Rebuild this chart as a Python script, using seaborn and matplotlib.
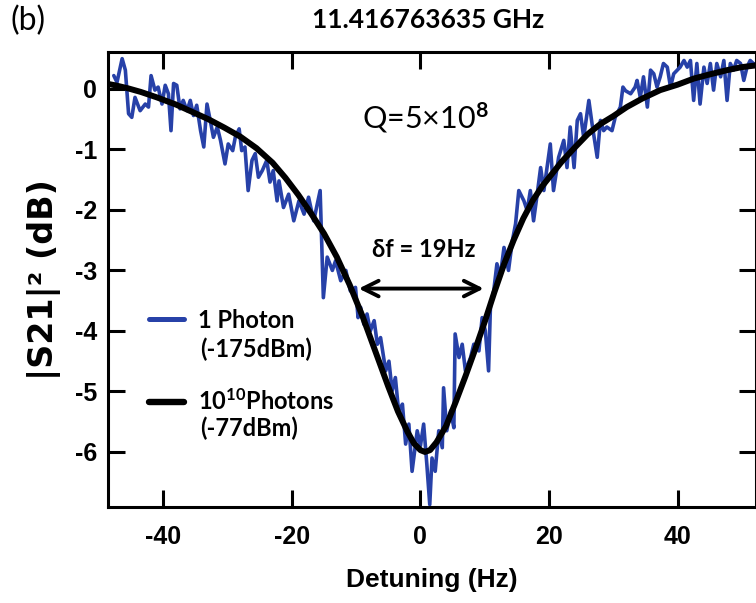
import matplotlib
matplotlib.use("Agg")
import matplotlib.pyplot as plt
import numpy as np
import pandas as pd
import seaborn as sns
from matplotlib.font_manager import FontProperties

# ---------------- data ----------------
# 1-photon measurement (-175 dBm), noisy trace
x_blue = [-47.7, -47.2, -46.4, -45.9, -45.4, -44.9, -44.4, -43.6, -42.8, -42.3,
          -41.9, -41.3, -40.8, -40.2, -39.7, -39.2, -38.8, -38.4, -37.9, -37.4,
          -36.9, -36.3, -35.8, -35.3, -34.8, -34.2, -33.7, -33.2, -32.7, -32.2,
          -31.6, -31.1, -30.4, -29.9, -29.2, -28.8, -28.2, -27.8, -27.3, -26.8,
          -26.2, -25.7, -25.2, -24.6, -23.9, -23.4, -22.9, -22.3, -22.0, -21.3,
          -20.5, -19.7, -18.9, -18.1, -17.4, -16.6, -15.6, -15.1, -14.5, -13.7,
          -13.2, -12.4, -11.6, -10.9, -10.1, -9.7, -9.3, -8.8, -8.3, -7.8,
          -7.2, -6.7, -6.2, -5.4, -4.9, -4.4, -3.9, -3.4, -2.8, -2.3,
          -1.8, -1.3, -0.5, 0.0, 0.5, 1.0, 1.45, 1.8, 2.3, 2.85,
          3.4, 3.6, 4.1, 4.7, 5.2, 5.4, 6.0, 6.5, 7.0, 7.8,
          8.3, 9.1, 9.6, 10.1, 10.6, 10.9, 11.4, 11.9, 12.4, 13.0,
          13.7, 14.3, 14.8, 15.3, 16.1, 16.6, 17.1, 17.6, 18.1, 18.7,
          19.2, 20.2, 20.7, 21.5, 22.3, 22.8, 23.3, 23.9, 24.4, 24.9,
          25.4, 26.2, 26.7, 27.5, 28.0, 28.5, 29.0, 29.8, 30.3, 31.1,
          31.5, 31.9, 32.7, 33.4, 33.7, 34.2, 34.7, 35.3, 35.8, 36.3,
          36.8, 37.3, 37.8, 38.4, 38.9, 39.4, 40.4, 41.0, 41.5, 42.0,
          42.5, 43.0, 43.5, 44.1, 44.6, 45.1, 45.6, 46.1, 46.7, 47.2,
          47.7, 48.2, 48.7, 49.2, 49.8, 50.3, 50.8, 51.3, 51.8, 52.3]
y_blue = [0.22, 0.11, 0.50, 0.31, -0.41, -0.47, -0.14, -0.36, -0.25, -0.30,
          0.22, -0.02, 0.03, -0.25, 0.06, -0.08, -0.69, 0.09, 0.06, -0.33,
          -0.19, -0.36, -0.19, -0.44, -0.27, -0.69, -0.96, -0.25, -0.52, -0.80,
          -0.63, -0.85, -1.24, -0.91, -1.02, -0.80, -0.66, -1.02, -0.96, -1.68,
          -1.18, -1.07, -1.46, -1.35, -1.18, -1.54, -1.35, -1.85, -1.52, -1.96,
          -1.74, -2.18, -1.85, -2.07, -1.79, -2.18, -1.68, -3.45, -2.78, -3.00,
          -2.84, -3.17, -3.00, -3.34, -3.28, -3.78, -3.61, -3.89, -3.72, -4.00,
          -3.83, -4.22, -4.11, -4.66, -4.50, -4.99, -4.77, -5.32, -5.21, -5.87,
          -5.54, -6.32, -5.65, -5.90, -5.54, -6.21, -6.87, -6.10, -6.32, -5.65,
          -5.93, -4.94, -5.65, -5.32, -5.60, -4.05, -4.44, -4.22, -4.66, -4.44,
          -4.22, -4.33, -3.78, -4.00, -4.66, -3.56, -3.34, -2.89, -3.11, -2.62,
          -3.00, -2.51, -2.23, -1.68, -1.85, -2.01, -1.68, -2.18, -1.79, -1.30,
          -1.68, -0.91, -1.68, -1.13, -0.85, -1.30, -0.63, -1.30, -0.52, -0.41,
          -0.80, -0.19, -0.58, -1.13, -0.52, -0.69, -0.63, -0.69, -0.47, -0.30,
          0.03, -0.03, -0.08, 0.03, 0.14, -0.14, 0.20, -0.30, 0.31, 0.25,
          0.03, 0.20, 0.42, 0.36, 0.03, 0.25, 0.36, 0.47, 0.36, 0.47,
          -0.19, 0.42, -0.25, 0.36, 0.09, 0.42, -0.02, 0.42, 0.20, 0.47,
          -0.19, 0.42, 0.31, 0.47, 0.42, 0.14, 0.36, 0.47, 0.42, 0.40]

# 10^10-photon measurement (-77 dBm), smooth trace
x_fit = [-48.5, -47.5, -45.5, -43.5, -41.0, -38.0, -35.5, -33.0, -30.5, -28.0,
         -25.5, -23.0, -21.0, -19.0, -17.0, -15.0, -13.0, -11.0, -9.0, -7.0,
         -5.0, -3.5, -2.0, -1.0, 0.0, 0.7, 1.5, 2.5, 4.0, 5.5,
         7.0, 8.5, 10.0, 11.5, 13.0, 14.5, 16.0, 17.5, 19.0, 20.5,
         22.0, 24.0, 26.0, 28.0, 30.0, 32.1, 34.5, 37.3, 40.0, 42.5,
         45.0, 47.7, 50.0, 52.3]
y_fit = [0.08, 0.06, 0.01, -0.05, -0.14, -0.26, -0.38, -0.50, -0.64, -0.79,
         -0.98, -1.22, -1.47, -1.75, -2.06, -2.39, -2.78, -3.24, -3.76, -4.34,
         -4.92, -5.33, -5.67, -5.86, -5.97, -6.00, -5.97, -5.84, -5.57, -5.17,
         -4.75, -4.31, -3.85, -3.36, -2.90, -2.50, -2.14, -1.84, -1.60, -1.40,
         -1.20, -0.97, -0.75, -0.58, -0.45, -0.30, -0.16, -0.02, 0.07, 0.17,
         0.24, 0.31, 0.36, 0.39]

x_ticks = [-40, -20, 0, 20, 40]
y_ticks = [0, -1, -2, -3, -4, -5, -6]
fwhm_ends = (-9.6, 9.85)   # ends of the linewidth arrow (Hz)
fwhm_level = -3.3          # dB level of the arrow

label_blue = "1 Photon"
label_blue_sub = "(-175dBm)"
label_black = r"$\mathbf{10^{10}}$Photons"
label_black_sub = "(-77dBm)"

BLUE = "#2741a8"

# ---------------- style ----------------
sns.set_theme(style="ticks")
plt.rcParams.update({
    "font.family": ["Liberation Sans", "DejaVu Sans"],
    "font.weight": "bold",
    "axes.unicode_minus": False,
    "text.color": "black",
    "axes.labelcolor": "black",
    "xtick.color": "black",
    "ytick.color": "black",
    "mathtext.fontset": "custom",
    "mathtext.rm": "Lato",
    "mathtext.bf": "Lato:bold",
    "mathtext.it": "Lato:italic",
})

fig = plt.figure(figsize=(7.56, 6.03), dpi=100)
ax = fig.add_axes([108 / 756, 96 / 603, 648 / 756, 455 / 603])

df_blue = pd.DataFrame({"Detuning": x_blue, "S21": y_blue})
df_fit = pd.DataFrame({"Detuning": x_fit, "S21": y_fit})

sns.lineplot(data=df_blue, x="Detuning", y="S21", ax=ax, color=BLUE, lw=2.6,
             sort=False, estimator=None, label=label_blue)
sns.lineplot(data=df_fit, x="Detuning", y="S21", ax=ax, color="black", lw=4.3,
             sort=False, estimator=None, label=label_black)

ax.set_xlim(-48.6, 52.2)
ax.set_ylim(-6.91, 0.61)
ax.set_xticks(x_ticks)
ax.set_yticks(y_ticks)
ax.tick_params(direction="in", length=12, width=2.2, top=True, right=True,
               labelsize=18, color="black", labelcolor="black")
ax.tick_params(axis="x", pad=13)
ax.tick_params(axis="y", pad=8)
for s in ax.spines.values():
    s.set_linewidth(2.2)
    s.set_color("black")
    s.set_visible(True)

ax.set_xlabel("Detuning (Hz)", fontsize=19, fontweight="bold", labelpad=14)
ax.set_ylabel("|S21|² (dB)", fontsize=24, fontweight="bold", labelpad=10,
              family=["DejaVu Sans"])

# legend
leg_font = FontProperties(family="Lato", weight="bold", size=17)
leg = ax.legend(loc="upper left", bbox_to_anchor=(0.048, 0.457), frameon=False,
                prop=leg_font, handlelength=1.5, handletextpad=0.6,
                labelspacing=2.4, borderaxespad=0, borderpad=0.4)
for h, w in zip(leg.legend_handles, [3.6, 4.6]):
    h.set_linewidth(w)
ax.text(0.142, 0.347, label_blue_sub, transform=ax.transAxes, ha="left",
        va="center", family="Lato", fontweight="bold", fontsize=17)
ax.text(0.142, 0.172, label_black_sub, transform=ax.transAxes, ha="left",
        va="center", family="Lato", fontweight="bold", fontsize=17)

# annotations
ax.text(0.49, 0.855, r"Q=5×10$^{8}$", transform=ax.transAxes, ha="center",
        va="center", family="Lato", fontweight="normal", fontsize=22,
        color="black")
ax.annotate("", xy=(fwhm_ends[0], fwhm_level), xytext=(fwhm_ends[1], fwhm_level),
            arrowprops=dict(arrowstyle="<->", lw=2.8, color="black",
                            mutation_scale=28, shrinkA=0, shrinkB=0))
ax.text(0.488, 0.567, "δf = 19Hz", transform=ax.transAxes, ha="center",
        va="center", family="Lato", fontweight="bold", fontsize=17)

fig.text(428 / 756, 1 - 20 / 603, "11.416763635 GHz", ha="center", va="center",
         family="Lato", fontweight="bold", fontsize=19)
fig.text(10 / 756, 1 - 21 / 603, "(b)", ha="left", va="center",
         family="Lato", fontweight="normal", fontsize=23)

fig.savefig("out.png", dpi=100)
